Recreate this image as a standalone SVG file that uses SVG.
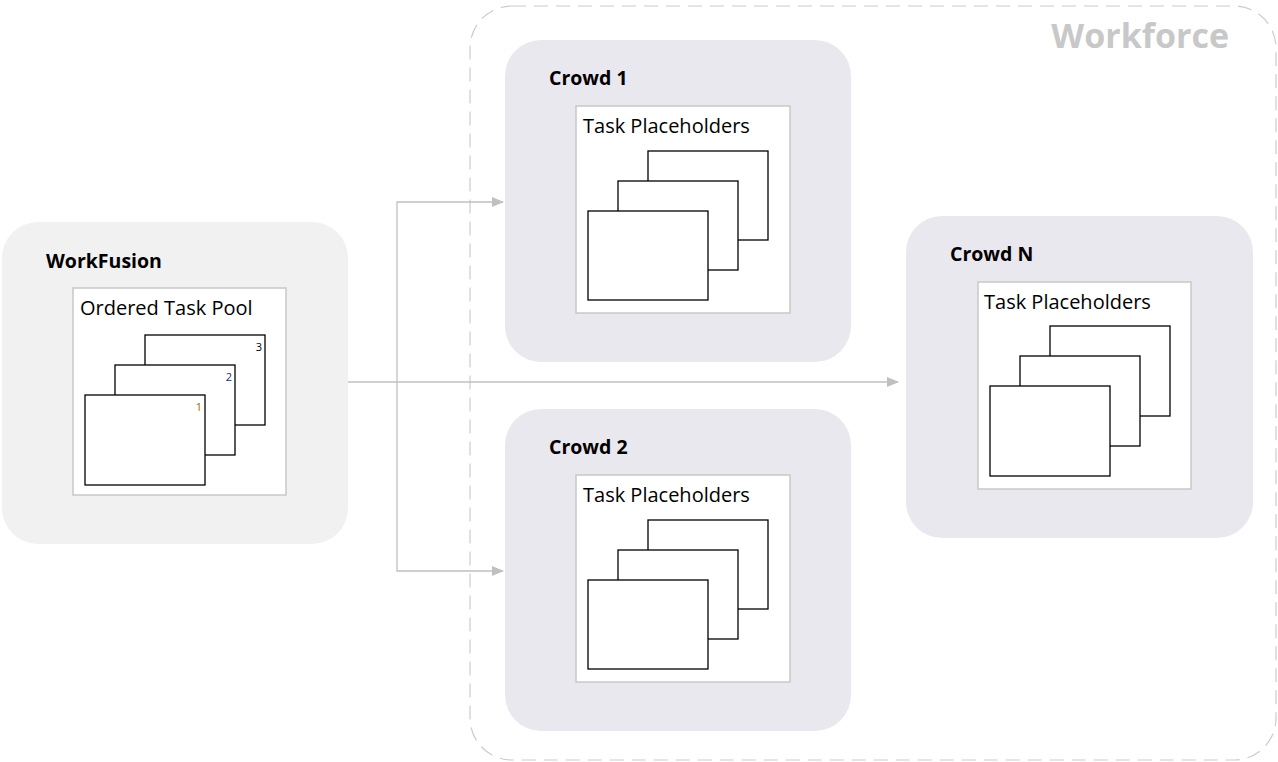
<svg xmlns="http://www.w3.org/2000/svg" width="1278" height="762" viewBox="0 0 1278 762">
<defs>
<marker id="ar" markerWidth="12" markerHeight="10" refX="11" refY="5" orient="auto" markerUnits="userSpaceOnUse"><path d="M0,0 L12,5 L0,10 Z" fill="#c0c0c0"/></marker>
<style>
.t{font-family:"Open Sans","DejaVu Sans",sans-serif;font-weight:bold;font-size:19.5px;fill:#000}
.s{font-family:"Open Sans","DejaVu Sans",sans-serif;font-size:20px;fill:#000}
.n{font-family:"Open Sans","DejaVu Sans",sans-serif;font-size:11px}
.in{fill:#fff;stroke:#c8c8c8;stroke-width:1.5}
.c{fill:#fff;stroke:#000;stroke-width:1.3}
.cr{fill:#eae8ef}
.ln{fill:none;stroke:#c0c0c0;stroke-width:1.3}
</style>
</defs>
<g id="workforce">
<rect x="470" y="6" width="806" height="754" rx="42" fill="none" stroke="#cccccc" stroke-width="1.2" stroke-dasharray="14,8"/>
<text x="1229" y="48" text-anchor="end" font-family="'Open Sans','DejaVu Sans',sans-serif" font-weight="bold" font-size="34" fill="#c8c8c8">Workforce</text>
</g>
<g id="workfusion">
<rect x="2" y="222" width="346" height="322" rx="36" fill="#f1f1f1"/>
<text class="t" x="46" y="268">WorkFusion</text>
<rect class="in" x="73" y="288" width="213" height="207"/>
<text class="s" x="80" y="315">Ordered Task Pool</text>
<rect class="c" x="145" y="335" width="120" height="90"/>
<rect class="c" x="115" y="365" width="120" height="90"/>
<rect class="c" x="85" y="395" width="120" height="90"/>
<text class="n" x="262" y="351" text-anchor="end" fill="#000">3</text>
<text class="n" x="232" y="381" text-anchor="end" fill="#1a2a6a">2</text>
<text class="n" x="202" y="411" text-anchor="end" fill="#b06000">1</text>
</g>
<g id="crowd1">
<rect class="cr" x="505" y="40" width="346" height="322" rx="36"/>
<text class="t" x="549" y="85">Crowd 1</text>
<rect class="in" x="576" y="106" width="214" height="207"/>
<text class="s" x="583" y="133">Task Placeholders</text>
<rect class="c" x="648" y="151" width="120" height="89"/>
<rect class="c" x="618" y="181" width="120" height="89"/>
<rect class="c" x="588" y="211" width="120" height="89"/>
</g>
<g id="crowd2">
<rect class="cr" x="505" y="409" width="346" height="322" rx="36"/>
<text class="t" x="549" y="454">Crowd 2</text>
<rect class="in" x="576" y="475" width="214" height="207"/>
<text class="s" x="583" y="502">Task Placeholders</text>
<rect class="c" x="648" y="520" width="120" height="89"/>
<rect class="c" x="618" y="550" width="120" height="89"/>
<rect class="c" x="588" y="580" width="120" height="89"/>
</g>
<g id="crowdN">
<rect class="cr" x="906" y="216" width="347" height="322" rx="36"/>
<text class="t" x="950" y="261">Crowd N</text>
<rect class="in" x="978" y="282" width="213" height="207"/>
<text class="s" x="984" y="309">Task Placeholders</text>
<rect class="c" x="1050" y="326" width="120" height="90"/>
<rect class="c" x="1020" y="356" width="120" height="90"/>
<rect class="c" x="990" y="386" width="120" height="90"/>
</g>
<g id="connectors">
<path class="ln" d="M348,382 H898" marker-end="url(#ar)"/>
<path class="ln" d="M397,382 V202 H503" marker-end="url(#ar)"/>
<path class="ln" d="M397,382 V571 H503" marker-end="url(#ar)"/>
</g>
</svg>
